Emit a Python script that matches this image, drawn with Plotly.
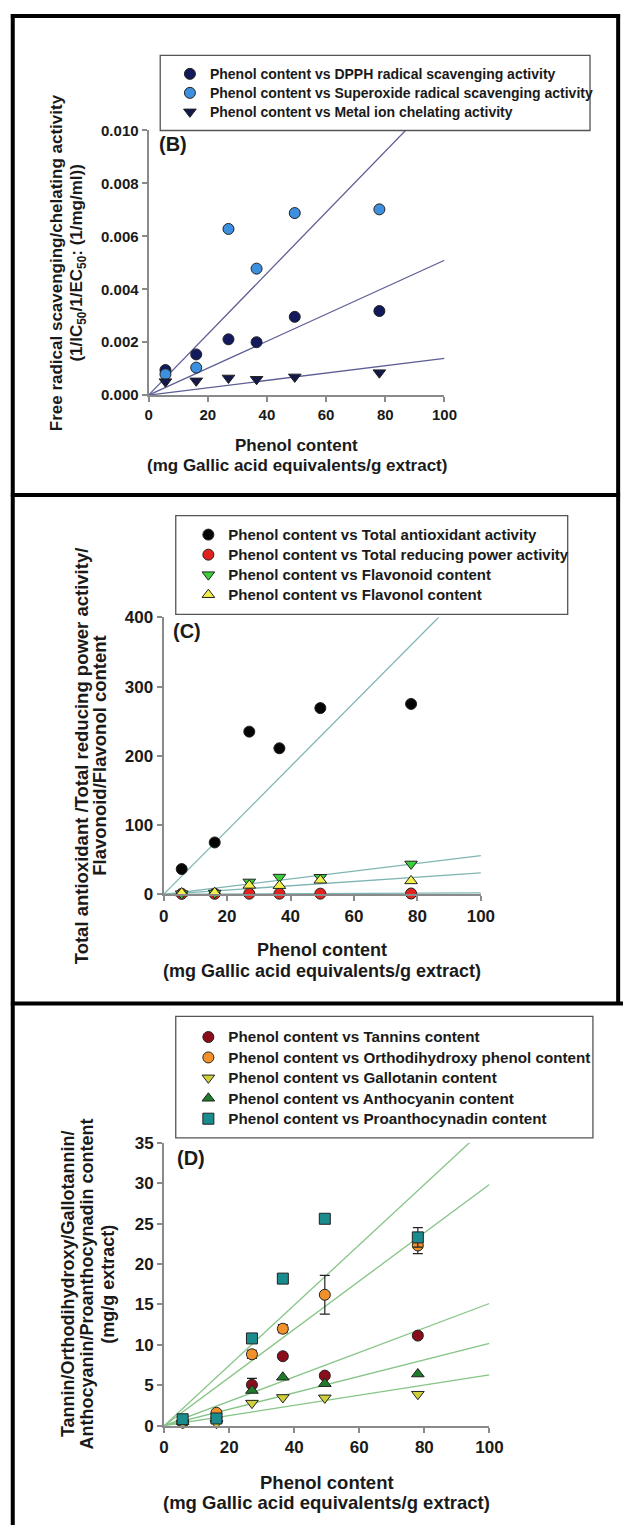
import plotly.graph_objects as go

W, H = 637, 1535
def px(x):
    return x / W
def py(y):
    return 1 - y / H

# ---------------- data ----------------
phenol = [5.7, 16.1, 27.0, 36.5, 49.4, 78.0]

# Panel B (1/IC50, 1/EC50 : 1/(mg/ml))
dpph = [0.00095, 0.00154, 0.00211, 0.00200, 0.00296, 0.00318]
superoxide = [0.00079, 0.00104, 0.00628, 0.00478, 0.00688, 0.00702]
metal = [0.00051, 0.00054, 0.00065, 0.00060, 0.00069, 0.00085]

# Panel C
total_antiox = [36.6, 75.0, 235.0, 211.0, 269.0, 275.0]
reducing = [0.8, 0.9, 1.0, 1.0, 1.1, 1.3]
flavonoid = [1.0, 2.0, 18.0, 25.0, 24.7, 44.0]
flavonol = [2.0, 2.5, 13.0, 12.6, 20.4, 19.5]

# Panel D
tannins = [0.4, 1.0, 5.06, 8.6, 6.2, 11.15]
tannins_err = [0.1, 0.1, 0.8, 0.3, 0.3, 0.3]
ortho = [0.5, 1.6, 8.84, 12.0, 16.2, 22.3]
ortho_err = [0.1, 0.2, 0.5, 0.5, 2.4, 1.0]
gallo = [0.3, 0.3, 2.8, 3.5, 3.45, 3.9]
antho = [0.5, 0.8, 4.36, 6.0, 5.2, 6.4]
proantho = [0.8, 0.9, 10.8, 18.2, 25.6, 23.3]
proantho_err = [0.1, 0.1, 0.3, 0.3, 0.3, 1.2]

x_fit = [0, 100]

FONT = "Liberation Sans, Arial, sans-serif"
AXC = "#8a8a8a"
TXT = "#1a1a1a"


def slope0(xs, ys):
    return sum(a * b for a, b in zip(xs, ys)) / sum(a * a for a in xs)


fig = go.Figure()

def add_fit(ys, xa, ya, color):
    k = slope0(phenol, ys)
    fig.add_trace(go.Scatter(x=x_fit, y=[k * v for v in x_fit], mode="lines",
                             line=dict(color=color, width=1.3), xaxis=xa, yaxis=ya,
                             showlegend=False, hoverinfo="skip"))

def add_pts(ys, name, fs, symbol, fill, xa, ya, leg, size=11, err=None):
    fig.add_trace(go.Scatter(
        x=phenol, y=ys, name=f'<span style="font-size:{fs}px">{name}</span>',
        mode="markers", xaxis=xa, yaxis=ya, legend=leg, cliponaxis=False,
        marker=dict(symbol=symbol, size=size, color=fill, line=dict(color="#222222", width=1)),
        error_y=(dict(type="data", array=err, color="#222222", thickness=1.2, width=5) if err else None),
    ))

# Panel B
LB = "#5e5e96"
for s in (dpph, superoxide, metal):
    add_fit(s, "x", "y", LB)
add_pts(dpph, "Phenol content vs DPPH radical scavenging activity", 14, "circle", "#121a5c", "x", "y", "legend")
add_pts(superoxide, "Phenol content vs Superoxide radical scavenging activity", 14, "circle", "#3d8fe0", "x", "y", "legend")
add_pts(metal, "Phenol content vs Metal ion chelating activity", 14, "triangle-down", "#15194a", "x", "y", "legend")

# Panel C
LC = "#7fb5b3"
for s in (total_antiox, reducing, flavonoid, flavonol):
    add_fit(s, "x2", "y2", LC)
add_pts(total_antiox, "Phenol content vs Total antioxidant activity", 15, "circle", "#050505", "x2", "y2", "legend2")
add_pts(reducing, "Phenol content vs Total reducing power activity", 15, "circle", "#e0231f", "x2", "y2", "legend2")
add_pts(flavonoid, "Phenol content vs Flavonoid content", 15, "triangle-down", "#3ccf3c", "x2", "y2", "legend2")
add_pts(flavonol, "Phenol content vs Flavonol content", 15, "triangle-up", "#f2ee4a", "x2", "y2", "legend2")

# Panel D
LD = "#86c486"
for s in (proantho, ortho, tannins, antho, gallo):
    add_fit(s, "x3", "y3", LD)
add_pts(tannins, "Phenol content vs Tannins content", 15.2, "circle", "#8b0d1c", "x3", "y3", "legend3", err=tannins_err)
add_pts(ortho, "Phenol content vs Orthodihydroxy phenol content", 15.2, "circle", "#f0912c", "x3", "y3", "legend3", err=ortho_err)
add_pts(gallo, "Phenol content vs Gallotanin content", 15.2, "triangle-down", "#cfcf3a", "x3", "y3", "legend3")
add_pts(antho, "Phenol content vs Anthocyanin content", 15.2, "triangle-up", "#1f7a2c", "x3", "y3", "legend3")
add_pts(proantho, "Phenol content vs Proanthocynadin content", 15.2, "square", "#1b8c8e", "x3", "y3", "legend3", err=proantho_err)


def xax(dom, fs):
    return dict(domain=dom, range=[0, 100], dtick=20, tick0=0, showline=True, linecolor=AXC,
                linewidth=2, ticks="outside", ticklen=5, tickwidth=1.5, tickcolor=AXC,
                showgrid=False, zeroline=False, fixedrange=True,
                tickfont=dict(family=FONT, size=fs, color=TXT, weight="bold"))

def yax(dom, rng, dt, fs, fmt=None, anchor="x"):
    d = dict(domain=dom, range=rng, dtick=dt, tick0=0, showline=True, linecolor=AXC,
             linewidth=2, ticks="outside", ticklen=5, tickwidth=1.5, tickcolor=AXC,
             showgrid=False, zeroline=False, anchor=anchor, fixedrange=True,
             tickfont=dict(family=FONT, size=fs, color=TXT, weight="bold"))
    if fmt:
        d["tickformat"] = fmt
    return d

# plot areas (pixel positions)
B_x = [px(148), px(453)]; B_y = [py(391), py(123)]
C_x = [px(163.5), px(490.5)]; C_y = [py(896.5), py(616)]
D_x = [px(164), px(499.3)]; D_y = [py(1434.5), py(1148)]

def legend(xl, ytop, fs):
    return dict(x=px(xl), y=py(ytop), xanchor="left", yanchor="top", bgcolor="rgba(0,0,0,0)",
                borderwidth=0, tracegroupgap=0,
                font=dict(family=FONT, size=fs, color=TXT, weight="bold"))

fig.update_layout(
    width=W, height=H, margin=dict(l=0, r=0, t=0, b=0),
    paper_bgcolor="white", plot_bgcolor="white",
    xaxis=xax(B_x, 15), yaxis=yax(B_y, [0, 0.010], 0.002, 15, ".3f", "x"),
    xaxis2=xax(C_x, 17), yaxis2=yax(C_y, [0, 400], 100, 17, None, "x2"),
    xaxis3=xax(D_x, 17), yaxis3=yax(D_y, [0, 35], 5, 17, None, "x3"),
    legend=legend(170, 51, 12),
    legend2=legend(189, 517, 13.1),
    legend3=legend(189, 1025.5, 13.4),
    showlegend=True,
)
fig.update_layout(xaxis2_anchor="y2", xaxis3_anchor="y3", xaxis_anchor="y")

# legend boxes and frame
shapes = []
for (x0, y0, x1, y1) in [(160, 47, 603, 123), (176, 513, 580, 613), (176, 1020, 606, 1143)]:
    shapes.append(dict(type="rect", xref="paper", yref="paper", x0=px(x0), x1=px(x1), y0=py(y0), y1=py(y1),
                       line=dict(color="#555555", width=1.3), fillcolor="rgba(0,0,0,0)", layer="above"))
FR = dict(color="black", width=4)
shapes += [
    dict(type="line", xref="paper", yref="paper", x0=px(8), x1=px(8), y0=0, y1=py(5), line=FR),
    dict(type="line", xref="paper", yref="paper", x0=px(632), x1=px(632), y0=py(1007), y1=py(5), line=FR),
    dict(type="line", xref="paper", yref="paper", x0=px(6), x1=px(634), y0=py(7), y1=py(7), line=FR),
    dict(type="line", xref="paper", yref="paper", x0=px(6), x1=px(634), y0=py(492), y1=py(492), line=FR),
    dict(type="line", xref="paper", yref="paper", x0=px(6), x1=1, y0=py(1007), y1=py(1007), line=FR),
]
fig.update_layout(shapes=shapes)

ann = []
def text(x, y, s, fs, bold=True, angle=0):
    ann.append(dict(x=px(x), y=py(y), xref="paper", yref="paper", text=s, showarrow=False,
                    xanchor="center", yanchor="middle", textangle=angle,
                    font=dict(family=FONT, size=fs, color=TXT, weight="bold" if bold else "normal")))

# panel labels
text(173, 137, "(B)", 20)
text(188, 630, "(C)", 20)
text(192, 1163, "(D)", 20)

# Panel B titles
text(300.5, 442, "Phenol content", 17)
text(300.5, 462, "(mg Gallic acid equivalents/g extract)", 17)
text(53, 257, "Free radical scavenging/chelating activity", 17, angle=-90)
text(75, 257, "(1/IC<sub>50</sub>/1/EC<sub>50</sub>: (1/mg/ml))", 17, angle=-90)

# Panel C titles
text(327, 953, "Phenol content", 18)
text(327, 974, "(mg Gallic acid equivalents/g extract)", 18)
text(79, 756, "Total antioxidant /Total reducing power activity/", 18.5, angle=-90)
text(98, 756, "Flavonoid/Flavonol content", 18.5, angle=-90)

# Panel D titles
text(331.5, 1492, "Phenol content", 18.5)
text(331.5, 1512.5, "(mg Gallic acid equivalents/g extract)", 18.5)
text(65, 1291, "Tannin/Orthodihydroxy/Gallotannin/", 18, angle=-90)
text(85, 1291, "Anthocyanin/Proanthocynadin content", 18, angle=-90)
text(106, 1291, "(mg/g extract)", 18, angle=-90)

fig.update_layout(annotations=ann)

fig.write_html(
    "out.html", config={"displayModeBar": False},
    post_script=("document.body.style.margin='0';"
                 "document.body.style.overflow='hidden';"
                 "document.documentElement.style.overflow='hidden';"))
